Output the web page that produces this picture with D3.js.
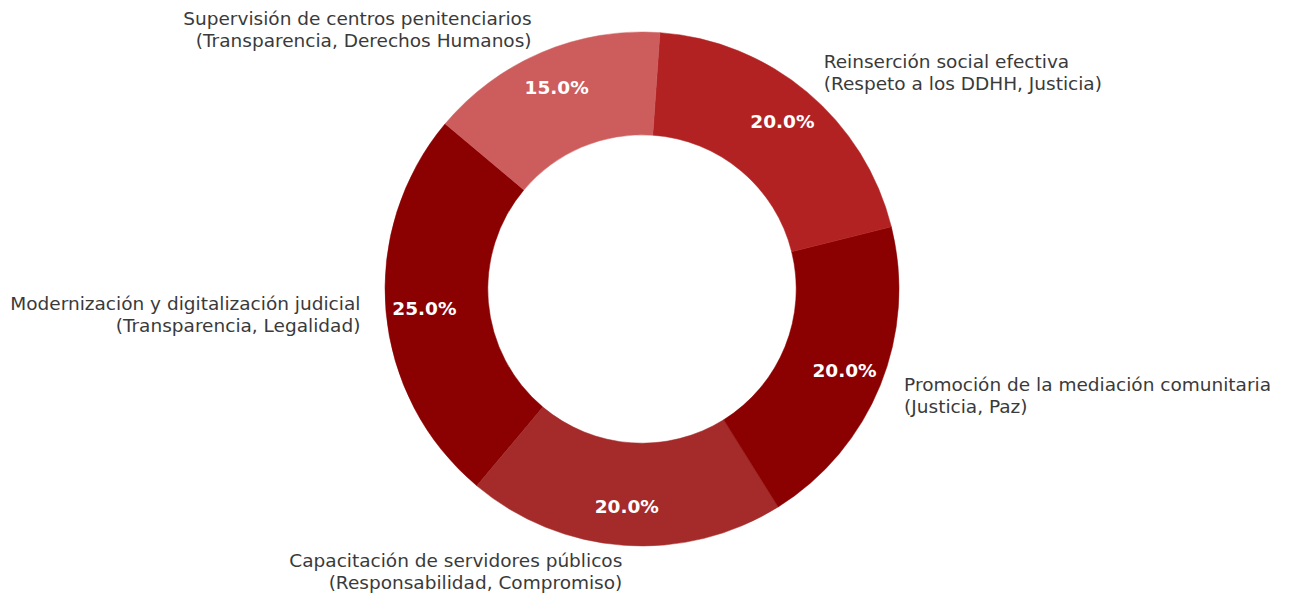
<!DOCTYPE html>
<html>
<head>
<meta charset="utf-8">
<script src="https://cdn.jsdelivr.net/npm/d3@7"></script>
<style>
  html, body { margin: 0; padding: 0; background: #ffffff; }
  svg { display: block; }
</style>
</head>
<body>
<svg id="chart" width="1291" height="597"></svg>
<script>
// Programme lines and their share of the budget (percent), counter-clockwise order
const lineas = [
  "Modernización y digitalización judicial\n(Transparencia, Legalidad)",
  "Capacitación de servidores públicos\n(Responsabilidad, Compromiso)",
  "Promoción de la mediación comunitaria\n(Justicia, Paz)",
  "Reinserción social efectiva\n(Respeto a los DDHH, Justicia)",
  "Supervisión de centros penitenciarios\n(Transparencia, Derechos Humanos)"
];
const porcentajes = [25, 20, 20, 20, 15];
const colores = ["#8b0000", "#a52a2a", "#8b0000", "#b22222", "#cd5c5c"];

const width = 1291, height = 597;
const cx = 642, cy = 289;
const outerR = 257, innerR = outerR * 0.6;
const fontFamily = "'DejaVu Sans', Verdana, sans-serif";
const fontSize = 18.5;

const svg = d3.select("#chart");
const g = svg.append("g").attr("transform", `translate(${cx},${cy})`);

const data = lineas.map((l, i) => ({ label: l, value: porcentajes[i], color: colores[i] }));

// Start at 140° (math angle) and run counter-clockwise
const start = (90 - 140) * Math.PI / 180;
const pie = d3.pie()
  .sort(null)
  .value(d => d.value)
  .startAngle(start)
  .endAngle(start - 2 * Math.PI);

const arcs = pie(data);
const arc = d3.arc().innerRadius(innerR).outerRadius(outerR);

g.selectAll("path.slice")
  .data(arcs)
  .join("path")
  .attr("class", "slice")
  .attr("d", arc)
  .attr("fill", d => d.data.color)
  .attr("stroke", d => d.data.color)
  .attr("stroke-width", 0.5);

const mid = d => (d.startAngle + d.endAngle) / 2;
const total = d3.sum(porcentajes);

// Percentage labels inside the ring
g.selectAll("text.pct")
  .data(arcs)
  .join("text")
  .attr("class", "pct")
  .attr("x", d => Math.sin(mid(d)) * outerR * 0.85)
  .attr("y", d => -Math.cos(mid(d)) * outerR * 0.85)
  .attr("text-anchor", "middle")
  .attr("dominant-baseline", "central")
  .attr("font-family", fontFamily)
  .attr("font-weight", "bold")
  .attr("font-size", fontSize)
  .attr("fill", "#ffffff")
  .text(d => (d.data.value / total * 100).toFixed(1) + "%");

// Category labels outside the ring
const lh = 22;
g.selectAll("text.lbl")
  .data(arcs)
  .join("text")
  .attr("class", "lbl")
  .attr("font-family", fontFamily)
  .attr("font-size", fontSize)
  .attr("fill", "#3a3a3a")
  .attr("dominant-baseline", "central")
  .attr("text-anchor", d => Math.sin(mid(d)) >= 0 ? "start" : "end")
  .each(function (d) {
    const x = Math.sin(mid(d)) * outerR * 1.1;
    const y = -Math.cos(mid(d)) * outerR * 1.1;
    const parts = d.data.label.split("\n");
    const t = d3.select(this);
    parts.forEach((p, i) => {
      t.append("tspan")
        .attr("x", x)
        .attr("y", y + (i - (parts.length - 1) / 2) * lh)
        .text(p);
    });
  });
</script>
</body>
</html>
